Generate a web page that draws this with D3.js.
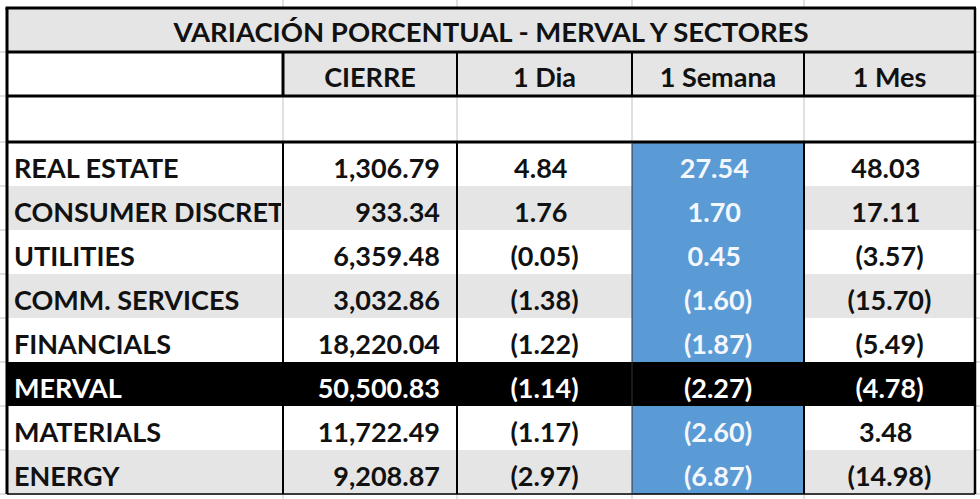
<!DOCTYPE html>
<html>
<head>
<meta charset="utf-8">
<script src="https://cdn.jsdelivr.net/npm/d3@7"></script>
<style>
  body { margin: 0; background: #fff; }
  text { font-family: Lato, "Open Sans", sans-serif; font-weight: 700; }
</style>
</head>
<body>
<div id="chart"></div>
<script>
// Table data.
const title = 'VARIACIÓN PORCENTUAL - MERVAL Y SECTORES';
const columns = ['CIERRE', '1 Dia', '1 Semana', '1 Mes'];
// The sheet cuts the second label at the column edge.
const sectors = ['REAL ESTATE', 'CONSUMER DISCRET', 'UTILITIES', 'COMM. SERVICES',
    'FINANCIALS', 'MERVAL', 'MATERIALS', 'ENERGY'];
const cierre = [1306.79, 933.34, 6359.48, 3032.86, 18220.04, 50500.83, 11722.49, 9208.87];
const dia = [4.84, 1.76, -0.05, -1.38, -1.22, -1.14, -1.17, -2.97];
const semana = [27.54, 1.70, 0.45, -1.60, -1.87, -2.27, -2.60, -6.87];
const mes = [48.03, 17.11, -3.57, -15.70, -5.49, -4.78, 3.48, -14.98];
const highlight = 'MERVAL';

const width = 980, height = 499;
const colEdges = [7, 283, 457, 632, 804, 975];
const titleTop = 8, headTop = 52, emptyTop = 96, dataTop = 142, dataBottom = 494;
const grayFill = '#e5e5e5', blueFill = '#5b9bd5', gridColor = '#d6d6d6';

const svg = d3.select('#chart').append('svg')
    .attr('width', width)
    .attr('height', height);

// Row scale for the data rows.
const y = d3.scaleBand()
    .domain(sectors)
    .range([dataTop, dataBottom]);

const rows = sectors.map(function (s, i) {
    return {name: s, i: i, values: [cierre[i], dia[i], semana[i], mes[i]]};
});

// Sheet gridlines behind the table.
const gridX = colEdges.slice(1, 5);
const gridY = [headTop, emptyTop, dataTop].concat(sectors.map(function (s) {return y(s) + y.bandwidth();}));
svg.append('g').selectAll('line').data(gridX).enter().append('line')
    .attr('x1', function (d) {return d;}).attr('x2', function (d) {return d;})
    .attr('y1', 0).attr('y2', height)
    .attr('stroke', gridColor).attr('stroke-width', 1.5);
svg.append('g').selectAll('line').data(gridY).enter().append('line')
    .attr('x1', 0).attr('x2', width)
    .attr('y1', function (d) {return d;}).attr('y2', function (d) {return d;})
    .attr('stroke', gridColor).attr('stroke-width', 1.5);

// Title row.
svg.append('rect')
    .attr('x', colEdges[0]).attr('y', titleTop)
    .attr('width', colEdges[5] - colEdges[0]).attr('height', headTop - titleTop)
    .attr('fill', grayFill);
svg.append('text')
    .attr('x', (colEdges[0] + colEdges[5]) / 2).attr('y', titleTop + 34)
    .attr('text-anchor', 'middle')
    .attr('font-size', 27.5)
    .attr('fill', '#111')
    .text(title);

// Header row.
svg.append('rect')
    .attr('x', colEdges[0]).attr('y', headTop)
    .attr('width', colEdges[1] - colEdges[0]).attr('height', emptyTop - headTop)
    .attr('fill', '#fff');
svg.append('rect')
    .attr('x', colEdges[0]).attr('y', emptyTop)
    .attr('width', colEdges[5] - colEdges[0]).attr('height', dataTop - emptyTop)
    .attr('fill', '#fff');
const head = svg.append('g').selectAll('g').data(columns).enter().append('g');
head.append('rect')
    .attr('x', function (d, i) {return colEdges[i + 1];})
    .attr('y', headTop)
    .attr('width', function (d, i) {return colEdges[i + 2] - colEdges[i + 1];})
    .attr('height', emptyTop - headTop)
    .attr('fill', grayFill);
head.append('text')
    .attr('x', function (d, i) {return (colEdges[i + 1] + colEdges[i + 2]) / 2;})
    .attr('y', headTop + 35)
    .attr('text-anchor', 'middle')
    .attr('font-size', 27)
    .attr('fill', '#111')
    .text(function (d) {return d;});
// Gridlines inside the empty row.
svg.append('g').selectAll('line').data(gridX).enter().append('line')
    .attr('x1', function (d) {return d;}).attr('x2', function (d) {return d;})
    .attr('y1', emptyTop).attr('y2', dataTop)
    .attr('stroke', gridColor).attr('stroke-width', 1.5);

// Data rows.
function rowFill(d) {
    if (d.name === highlight) return '#000';
    return d.i % 2 ? grayFill : '#fff';
}
const row = svg.append('g').selectAll('g').data(rows).enter().append('g')
    .attr('transform', function (d) {return 'translate(0,' + y(d.name) + ')';});
row.append('rect')
    .attr('x', colEdges[0]).attr('width', colEdges[5] - colEdges[0])
    .attr('height', y.bandwidth())
    .attr('fill', rowFill);
// Blue "1 Semana" column.
row.filter(function (d) {return d.name !== highlight;}).append('rect')
    .attr('x', colEdges[3]).attr('width', colEdges[4] - colEdges[3])
    .attr('height', y.bandwidth())
    .attr('fill', blueFill);

// Sector labels, clipped to their column.
svg.append('clipPath').attr('id', 'labelClip')
    .append('rect')
    .attr('x', colEdges[0]).attr('y', 0)
    .attr('width', colEdges[1] - colEdges[0] - 2).attr('height', height);
const baseY = y.bandwidth() / 2 + 14;
row.append('text')
    .attr('clip-path', 'url(#labelClip)')
    .attr('x', 14)
    .attr('y', baseY)
    .attr('font-size', 27)
    .attr('fill', function (d) {return d.name === highlight ? '#fff' : '#111';})
    .text(function (d) {return d.name;});

// Values.
const fmtClose = d3.format(',.2f'), fmtPct = d3.format('.2f');
function textColor(d, c) {
    if (d.name === highlight) return '#fff';
    return c === 2 ? '#f4f7fb' : '#111';
}
columns.forEach(function (col, c) {
    const t = row.append('text')
        .attr('y', baseY)
        .attr('font-size', 27)
        .attr('fill', function (d) {return textColor(d, c);});
    if (c === 0) {
        t.attr('x', 440).attr('text-anchor', 'end')
            .text(function (d) {return fmtClose(d.values[0]);});
        return;
    }
    t.attr('x', (colEdges[c + 1] + colEdges[c + 2]) / 2)
        .attr('text-anchor', 'middle');
    t.each(function (d) {
        const v = d.values[c], el = d3.select(this);
        if (v < 0) el.text('(' + fmtPct(-v) + ')');
        else {
            el.append('tspan').text(fmtPct(v));
            // Keep the space of the closing bracket, as the sheet format does.
            el.append('tspan').attr('fill-opacity', 0).text(')');
        }
    });
});

// Borders.
const borders = svg.append('g').attr('stroke', '#000').attr('fill', 'none');
function line(x1, y1, x2, y2, w, color) {
    borders.append('line')
        .attr('x1', x1).attr('y1', y1).attr('x2', x2).attr('y2', y2)
        .attr('stroke-width', w)
        .attr('stroke', color || '#000');
}
line(colEdges[0] - 1.5, titleTop, colEdges[5] + 1, titleTop, 3);
line(colEdges[0], titleTop, colEdges[0], dataBottom, 3);
line(colEdges[5], titleTop, colEdges[5], dataBottom, 2.5);
line(colEdges[0], headTop, colEdges[5], headTop, 3);
line(colEdges[0], emptyTop, colEdges[5], emptyTop, 3);
line(colEdges[0], dataTop, colEdges[5], dataTop, 3);
line(colEdges[0], dataBottom, colEdges[5], dataBottom, 1.5);
colEdges.slice(1, 5).forEach(function (x, i) {
    line(x, headTop, x, emptyTop, i === 0 ? 3 : 2);
    if (i === 2) line(x, dataTop, x, dataBottom, 1, '#333');
    else line(x, dataTop, x, dataBottom, 2);
});
</script>
</body>
</html>
